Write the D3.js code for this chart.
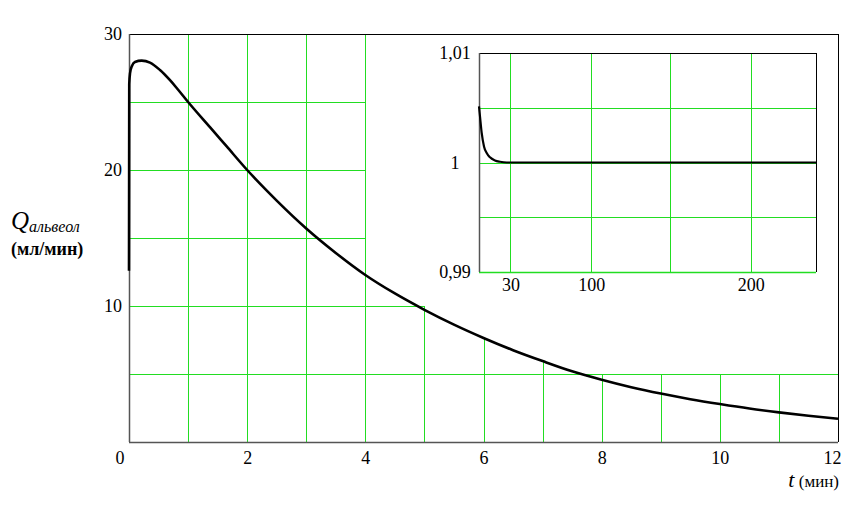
<!DOCTYPE html>
<html lang="ru">
<head>
<meta charset="UTF-8">
<script src="https://d3js.org/d3.v7.min.js"></script>
<style>
  body { margin: 0; background: #fff; }
</style>
</head>
<body>
<div id="chart"></div>
<script>
// main curve: Q альвеол (мл/мин) vs t (мин)
var tMain = [0, 0.004, 0.017, 0.05, 0.10, 0.215, 0.355, 0.525, 0.694, 0.807, 1.0, 1.37, 1.65, 2.0, 2.5, 3.0, 3.5, 4.0, 4.5, 5.0, 5.5, 6.0, 6.5, 7.0, 7.5, 8.0, 8.5, 9.0, 9.5, 10.0, 10.5, 11.0, 11.5, 12.0];
var qMain = [12.6, 26.3, 27.1, 27.65, 27.94, 28.04, 27.9, 27.35, 26.6, 26.03, 25.0, 23.15, 21.75, 20.0, 17.75, 15.7, 13.9, 12.28, 10.92, 9.72, 8.63, 7.65, 6.75, 5.95, 5.2, 4.58, 4.03, 3.56, 3.15, 2.79, 2.46, 2.18, 1.93, 1.71];

var xTicks = [0, 2, 4, 6, 8, 10, 12];
var yTicks = [10, 20, 30];

// grid of the main plot (part of it is covered by the inset)
var vGridT = [1, 2, 3, 4, 5, 6, 7, 8, 9, 10, 11];
var vGridTop = [30, 30, 30, 30, 10, 7.6, 6.0, 5, 5, 5, 5];
var hGridQ = [5, 10, 15, 20, 25];
var hGridRight = [12, 5, 4, 4, 4];

// inset: long time view
var tInset = [0, 0.9, 2.4, 4.45, 6.85, 9.8, 14.2, 18.7, 24.7, 300];
var qInset = [1.00512, 1.0042, 1.0027, 1.00147, 1.00087, 1.00047, 1.00019, 1.00007, 1.0, 1.0];
var insetGridT = [28, 100, 170, 242];
var insetGridQ = [0.995, 1.0, 1.005];
var insetTickT = [28, 100, 242];
var insetTickLabels = ["30", "100", "200"];
var insetYTicks = [0.99, 1.0, 1.01];
var insetYLabels = ["0,99", "1", "1,01"];

var W = 865, H = 509;
var green = "#22dd22";
var serif = "Liberation Serif";

var svg = d3.select("#chart").append("svg")
    .attr("width", W)
    .attr("height", H);

var x = d3.scaleLinear().domain([0, 12]).range([129, 838]);
var y = d3.scaleLinear().domain([0, 30]).range([442, 34]);

function px(v) { return Math.round(v) + 0.5; }

// grid
svg.append("g").selectAll("line")
    .data(vGridT)
    .enter().append("line")
    .attr("x1", function (d) { return px(x(d)); })
    .attr("x2", function (d) { return px(x(d)); })
    .attr("y1", y(0))
    .attr("y2", function (d, i) { return y(vGridTop[i]); })
    .attr("stroke", green)
    .attr("stroke-width", 1);

svg.append("g").selectAll("line")
    .data(hGridQ)
    .enter().append("line")
    .attr("x1", x(0))
    .attr("x2", function (d, i) { return x(hGridRight[i]); })
    .attr("y1", function (d) { return px(y(d)); })
    .attr("y2", function (d) { return px(y(d)); })
    .attr("stroke", green)
    .attr("stroke-width", 1);

// frame
svg.append("line")
    .attr("x1", x(0)).attr("x2", x(12))
    .attr("y1", px(y(30))).attr("y2", px(y(30)))
    .attr("stroke", "#000");
svg.append("line")
    .attr("x1", px(x(12))).attr("x2", px(x(12)))
    .attr("y1", y(30)).attr("y2", y(0))
    .attr("stroke", "#000");
svg.append("line")
    .attr("x1", px(x(0))).attr("x2", px(x(0)))
    .attr("y1", y(30)).attr("y2", y(0))
    .attr("stroke", "#555").attr("stroke-width", 1.5);
svg.append("line")
    .attr("x1", x(0)).attr("x2", x(12))
    .attr("y1", px(y(0))).attr("y2", px(y(0)))
    .attr("stroke", "#555").attr("stroke-width", 1.5);

// axes labels
var xAxis = svg.append("g")
    .attr("transform", "translate(0," + y(0) + ")")
    .call(d3.axisBottom(x).tickValues(xTicks).tickSize(0).tickPadding(9).tickFormat(d3.format("d")));
xAxis.select(".domain").remove();
xAxis.selectAll("text")
    .attr("text-anchor", function (d) { return d === 0 || d === 12 ? "end" : "middle"; })
    .attr("dx", function (d) { return d === 0 ? -5 : d === 12 ? 3 : 0; });

var yAxis = svg.append("g")
    .attr("transform", "translate(" + x(0) + ",0)")
    .call(d3.axisLeft(y).tickValues(yTicks).tickSize(0).tickPadding(7).tickFormat(d3.format("d")));
yAxis.select(".domain").remove();

// main curve
var line = d3.line()
    .x(function (d, i) { return x(tMain[i]); })
    .y(function (d) { return y(d); })
    .curve(d3.curveMonotoneX);

svg.append("path")
    .datum(qMain)
    .attr("d", line)
    .attr("fill", "none")
    .attr("stroke", "#000")
    .attr("stroke-width", 2.6)
    .attr("stroke-linejoin", "round");

// axis titles
var qLabel = svg.append("text").attr("class", "title").attr("x", 11).attr("y", 229);
qLabel.append("tspan").text("Q").attr("font-style", "italic").attr("font-size", 25);
qLabel.append("tspan").text("альвеол").attr("dy", 3).attr("font-style", "italic").attr("font-size", 16);

svg.append("text")
    .attr("class", "title")
    .attr("x", 11).attr("y", 255)
    .attr("font-size", 18).attr("font-weight", "bold")
    .text("(мл/мин)");

var tLabel = svg.append("text").attr("class", "title").attr("x", 839).attr("y", 487).attr("text-anchor", "end");
tLabel.append("tspan").text("t").attr("font-style", "italic").attr("font-size", 22);
tLabel.append("tspan").text(" (мин)").attr("font-size", 17);

// inset
var xi = d3.scaleLinear().domain([0, 300]).range([479, 816]);
var yi = d3.scaleLinear().domain([0.99, 1.01]).range([272, 53]);

var inset = svg.append("g");

inset.append("rect")
    .attr("x", 430).attr("y", 40)
    .attr("width", 400).attr("height", 258)
    .attr("fill", "#fff");

inset.append("g").selectAll("line")
    .data(insetGridT)
    .enter().append("line")
    .attr("x1", function (d) { return px(xi(d)); })
    .attr("x2", function (d) { return px(xi(d)); })
    .attr("y1", yi(1.01)).attr("y2", yi(0.99))
    .attr("stroke", green);

inset.append("g").selectAll("line")
    .data(insetGridQ)
    .enter().append("line")
    .attr("x1", xi(0)).attr("x2", xi(300))
    .attr("y1", function (d) { return px(yi(d)); })
    .attr("y2", function (d) { return px(yi(d)); })
    .attr("stroke", green);

inset.append("line")
    .attr("x1", xi(0)).attr("x2", xi(300))
    .attr("y1", px(yi(1.01))).attr("y2", px(yi(1.01)))
    .attr("stroke", "#000");
inset.append("line")
    .attr("x1", px(xi(300))).attr("x2", px(xi(300)))
    .attr("y1", yi(1.01)).attr("y2", yi(0.99))
    .attr("stroke", "#000");
inset.append("line")
    .attr("x1", xi(0)).attr("x2", xi(300))
    .attr("y1", px(yi(0.99))).attr("y2", px(yi(0.99)))
    .attr("stroke", green).attr("stroke-width", 1.5);
inset.append("line")
    .attr("x1", px(xi(0))).attr("x2", px(xi(0)))
    .attr("y1", yi(1.01)).attr("y2", yi(0.99))
    .attr("stroke", "#555").attr("stroke-width", 1.5);

var xiAxis = inset.append("g")
    .attr("transform", "translate(0," + yi(0.99) + ")")
    .call(d3.axisBottom(xi).tickValues(insetTickT).tickSize(0).tickPadding(6)
        .tickFormat(function (d, i) { return insetTickLabels[i]; }));
xiAxis.select(".domain").remove();

var yiAxis = inset.append("g")
    .attr("transform", "translate(" + xi(0) + ",0)")
    .call(d3.axisLeft(yi).tickValues(insetYTicks).tickSize(0).tickPadding(24)
        .tickFormat(function (d, i) { return insetYLabels[i]; }));
yiAxis.select(".domain").remove();
yiAxis.selectAll("text").attr("text-anchor", "middle");

var lineInset = d3.line()
    .x(function (d, i) { return xi(tInset[i]); })
    .y(function (d) { return yi(d); })
    .curve(d3.curveMonotoneX);

inset.append("path")
    .datum(qInset)
    .attr("d", lineInset)
    .attr("fill", "none")
    .attr("stroke", "#000")
    .attr("stroke-width", 2.2);

// axis groups come with their own font attributes; swap them for the serif face
svg.selectAll("g").attr("font-family", null).attr("font-size", null);
svg.selectAll("g text")
    .attr("font-family", serif)
    .attr("font-size", 18)
    .attr("fill", "#000");
svg.selectAll("text.title").attr("font-family", serif);
</script>
</body>
</html>
